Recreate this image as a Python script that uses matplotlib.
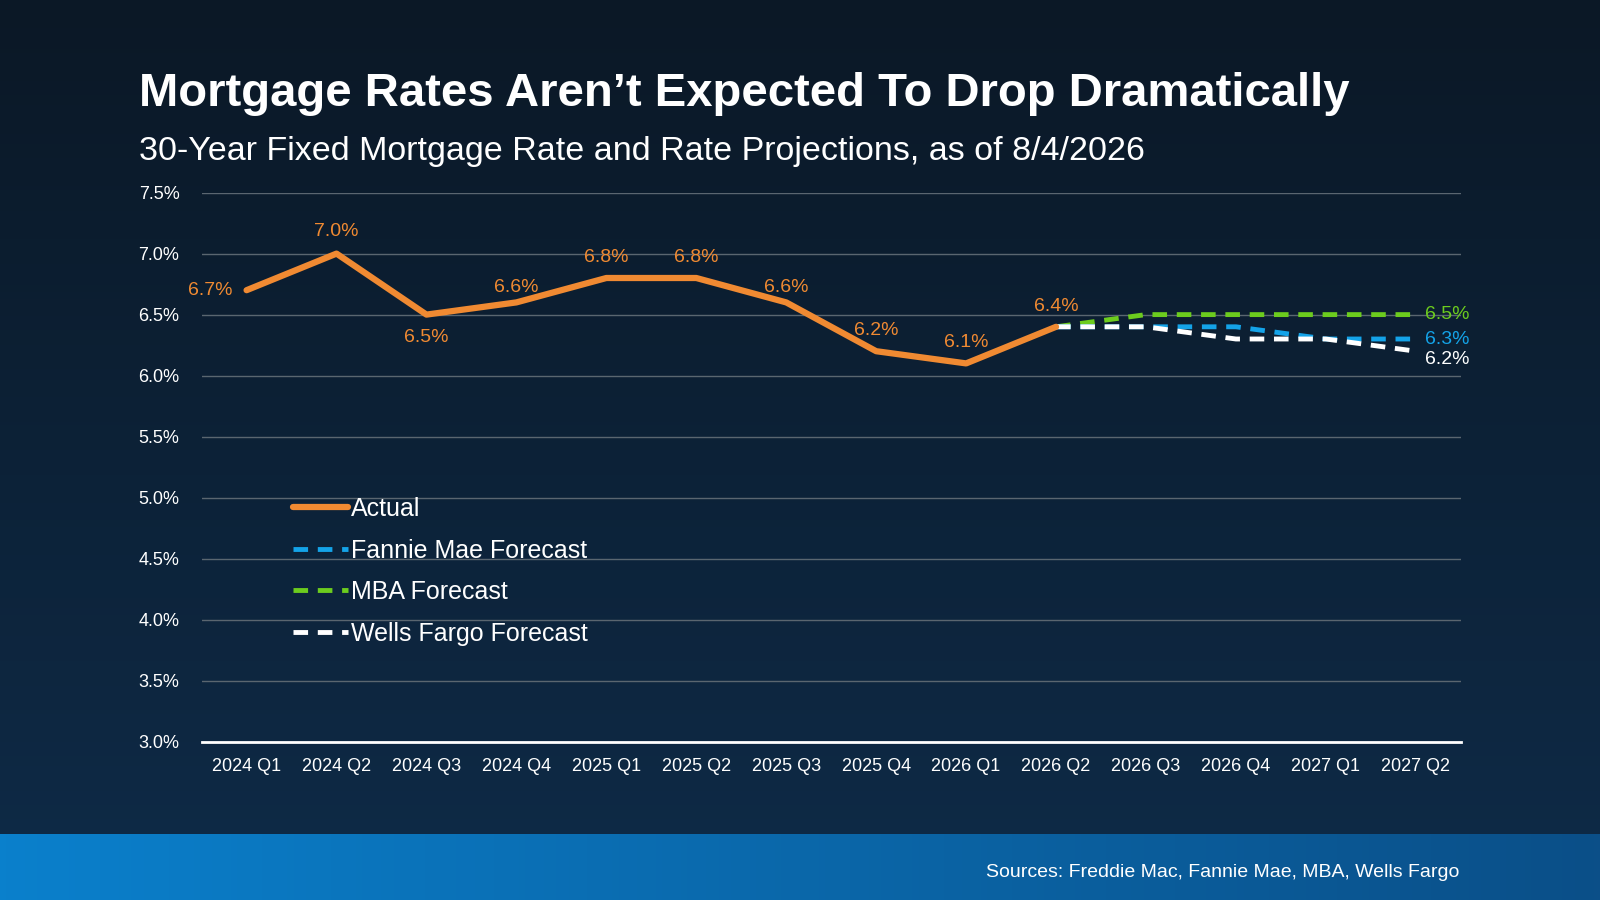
import matplotlib
matplotlib.use("Agg")
import matplotlib.pyplot as plt
import numpy as np

quarters = ["2024 Q1","2024 Q2","2024 Q3","2024 Q4","2025 Q1","2025 Q2","2025 Q3","2025 Q4","2026 Q1","2026 Q2","2026 Q3","2026 Q4","2027 Q1","2027 Q2"]
actual = [6.7,7.0,6.5,6.6,6.8,6.8,6.6,6.2,6.1,6.4]
fannie = [6.4,6.4,6.4,6.3,6.3]
mba = [6.4,6.5,6.5,6.5,6.5]
wells = [6.4,6.4,6.3,6.3,6.2]
yticks = [3.0,3.5,4.0,4.5,5.0,5.5,6.0,6.5,7.0,7.5]

plt.rcParams['font.family'] = ['Liberation Sans', 'DejaVu Sans']
fig = plt.figure(figsize=(16, 9), dpi=100)
bg = fig.add_axes([0, 0, 1, 1]); bg.set_axis_off()
grad = np.linspace(0, 1, 256).reshape(-1, 1)
from matplotlib.colors import LinearSegmentedColormap
cm = LinearSegmentedColormap.from_list("bg", ["#0b1826", "#0e2b48"])
bg.imshow(grad, aspect='auto', cmap=cm, extent=[0, 1, 0, 1], origin='upper')
cm2 = LinearSegmentedColormap.from_list("band", ["#0a80cc", "#0b4f88"])
bg.imshow(np.linspace(0, 1, 256).reshape(1, -1), aspect='auto', cmap=cm2, extent=[0, 1, 0, 0.073])
bg.set_xlim(0, 1); bg.set_ylim(0, 1)

fig.text(0.087, 0.895, "Mortgage Rates Aren\u2019t Expected To Drop Dramatically", color='white', fontsize=34, fontweight='bold', va='center')
fig.text(0.087, 0.832, "30-Year Fixed Mortgage Rate and Rate Projections, as of 8/4/2026", color='white', fontsize=24.5, va='center')
fig.text(0.912, 0.031, "Sources: Freddie Mac, Fannie Mae, MBA, Wells Fargo", color='white', fontsize=14, ha='right', va='center')

ax = fig.add_axes([0.126, 0.176, 0.787, 0.61])
ax.patch.set_alpha(0)
x = np.arange(len(quarters))
fx = x[9:]
ax.plot(fx, mba, color='#6ccc1e', lw=3.5, ls=(0, (3, 2)), label='MBA Forecast', zorder=3)
ax.plot(fx, fannie, color='#14a3e8', lw=3.5, ls=(0, (3, 2)), label='Fannie Mae Forecast', zorder=3)
ax.plot(fx, wells, color='white', lw=3.5, ls=(0, (3, 2)), label='Wells Fargo Forecast', zorder=4)
ax.plot(x[:10], actual, color='#f08a32', lw=4.5, label='Actual', zorder=5, solid_capstyle='round')

orange = '#f08a32'
offsets = {0: (-0.4, 0), 1: (0, 0.18), 2: (0, -0.19), 3: (0, 0.12), 4: (0, 0.17), 5: (0, 0.17), 6: (0, 0.12), 7: (0, 0.17), 8: (0, 0.17), 9: (0, 0.17)}
for i, v in enumerate(actual):
    dx, dy = offsets[i]
    ax.text(i + dx, v + dy, f"{v:.1f}%", color=orange, fontsize=14, ha='center', va='center')
ax.text(13.1, 6.5, "6.5%", color='#6ccc1e', fontsize=14, va='center')
ax.text(13.1, 6.3, "6.3%", color='#14a3e8', fontsize=14, va='center')
ax.text(13.1, 6.13, "6.2%", color='white', fontsize=14, va='center')

ax.set_ylim(3.0, 7.5)
ax.set_xlim(-0.5, 13.5)
ax.set_yticks(yticks)
ax.set_yticklabels([f"{t:.1f}%" for t in yticks], color='white', fontsize=13)
ax.set_xticks(x)
ax.set_xticklabels(quarters, color='white', fontsize=13)
ax.tick_params(length=0, pad=12)
ax.tick_params(axis='y', pad=16)
ax.grid(axis='y', color='#5a6670', lw=1)
for s in ['top', 'right', 'left']:
    ax.spines[s].set_visible(False)
ax.spines['bottom'].set_color('white'); ax.spines['bottom'].set_linewidth(2)
ax.set_axisbelow(True)

h, l = ax.get_legend_handles_labels()
order = [3, 1, 0, 2]
leg = ax.legend([h[i] for i in order], [l[i] for i in order], loc='center left', bbox_to_anchor=(0.055, 0.31), frameon=False,
                fontsize=18, labelcolor='white', handlelength=2.2, handletextpad=0.1, labelspacing=0.7)
fig.savefig("out.png", dpi=100)
